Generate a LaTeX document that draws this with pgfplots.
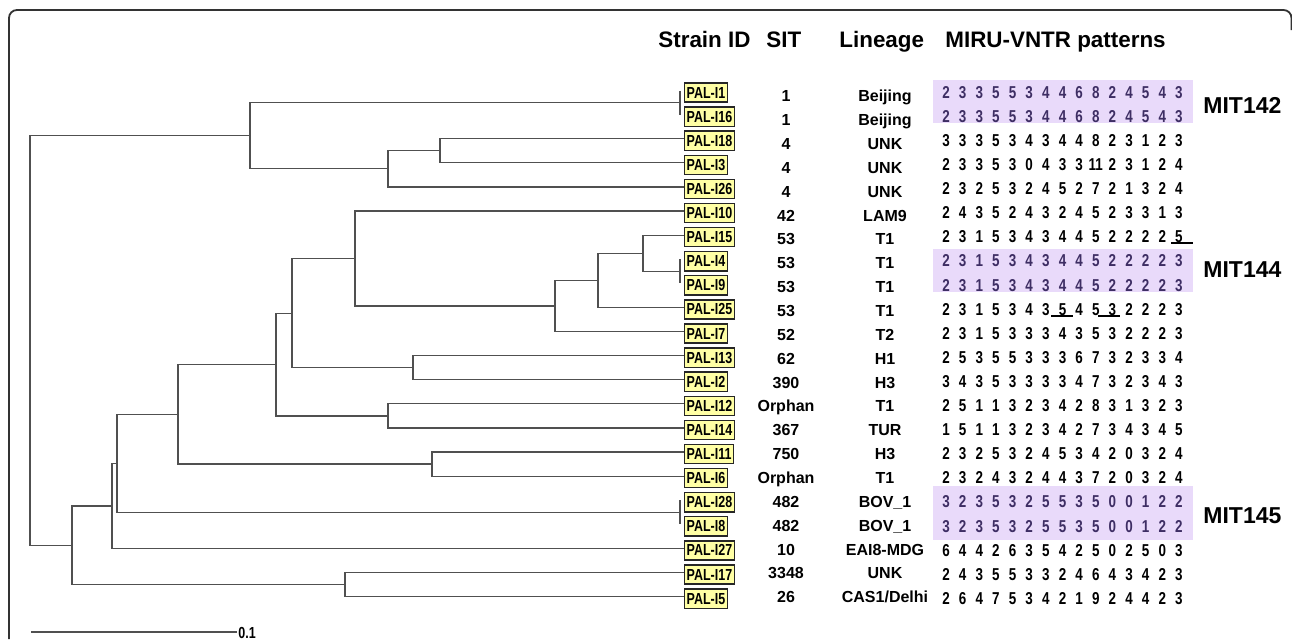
\documentclass[border=0pt]{standalone}
\usepackage{pgfplots}
\pgfplotsset{compat=1.18}
\usepackage{fontspec}
\setmainfont{Liberation Sans}
\newfontfamily\narrowfont[FakeStretch=0.78]{Liberation Sans}
\definecolor{lav}{RGB}{233,218,250}
\definecolor{palyel}{RGB}{255,255,165}
\definecolor{digp}{RGB}{62,46,100}
\definecolor{treec}{RGB}{80,80,80}
\tikzset{
 pal/.style={anchor=west, fill=palyel, draw=black!85, line width=0.7pt, inner xsep=1pt, inner ysep=0pt, minimum height=9.6pt, font=\narrowfont\bfseries\fontsize{8}{9}\selectfont},
 sit/.style={anchor=base, inner sep=0pt, font=\bfseries\fontsize{8}{9}\selectfont},
 dig/.style={anchor=base, inner sep=0pt, font=\narrowfont\bfseries\fontsize{8.6}{9}\selectfont},
 digP/.style={dig, text=digp},
 hdr/.style={anchor=base west, inner sep=0pt, font=\bfseries\fontsize{11.2}{12}\selectfont},
 mit/.style={anchor=west, inner sep=0pt, font=\bfseries\fontsize{11.5}{12}\selectfont},
 br/.style={treec, line width=0.6pt, mark=none},
}
\newcommand\mirurow[3]{%
 \foreach \d [count=\k from 0] in {#3} {%
   \edef\tmp{\noexpand\node[#2] at (axis cs:{946+16.64*\k},{98.2+24.1*#1}) {\d};}\tmp
 }}
\newcommand\leaf[4]{%
 \node[pal] at (axis cs:684,{92.5+24.1*#1}) {#2};
 \node[sit] at (axis cs:786,{101.7+23.86*#1}) {#3};
 \node[sit] at (axis cs:885,{101.7+23.86*#1}) {#4};
}
\begin{document}
\begin{tikzpicture}
\begin{axis}[scale only axis, width=646pt, height=319.5pt,
  xmin=0, xmax=1292, ymin=0, ymax=639, y dir=reverse, hide axis]
\addplot[draw=none] coordinates {(0,0) (1292,639)};
% frame
\addplot[black!80, line width=0.9pt, rounded corners=4pt] coordinates {(9,639) (9,10) (1291.5,10) (1291.5,30)};
% shaded MIT groups
\addplot[fill=lav, draw=none] coordinates {(933,80) (1193,80) (1193,123) (933,123)} -- cycle;
\addplot[fill=lav, draw=none] coordinates {(933,249) (1193,249) (1193,292) (933,292)} -- cycle;
\addplot[fill=lav, draw=none] coordinates {(933,486) (1193,486) (1193,540) (933,540)} -- cycle;
% dendrogram
\addplot[br] coordinates {(680,90.5) (680,114.6)};
\addplot[br] coordinates {(684,138.7) (440,138.7) (440,162.8) (684,162.8)};
\addplot[br] coordinates {(440,150.75) (388,150.75) (388,186.9) (684,186.9)};
\addplot[br] coordinates {(680,102.55) (250,102.55) (250,168.8) (388,168.8)};
\addplot[br] coordinates {(250,135.7) (30,135.7) (30,545.2) (72,545.2)};
\addplot[br] coordinates {(112,505.9) (72,505.9) (72,584.6) (345,584.6)};
\addplot[br] coordinates {(684,572.5) (345,572.5) (345,596.6) (684,596.6)};
\addplot[br] coordinates {(117,463.3) (112,463.3) (112,548.4) (684,548.4)};
\addplot[br] coordinates {(178,414.3) (117,414.3) (117,512.3) (680,512.3)};
\addplot[br] coordinates {(680,500.2) (680,524.3)};
\addplot[br] coordinates {(276,364.5) (178,364.5) (178,464) (432,464)};
\addplot[br] coordinates {(684,452) (432,452) (432,476.1) (684,476.1)};
\addplot[br] coordinates {(292,313.1) (276,313.1) (276,415.9) (388,415.9)};
\addplot[br] coordinates {(684,403.8) (388,403.8) (388,427.9) (684,427.9)};
\addplot[br] coordinates {(355,258.5) (292,258.5) (292,367.7) (413,367.7)};
\addplot[br] coordinates {(684,355.6) (413,355.6) (413,379.7) (684,379.7)};
\addplot[br] coordinates {(684,211) (355,211) (355,305.9) (555,305.9)};
\addplot[br] coordinates {(598,280.3) (555,280.3) (555,331.5) (684,331.5)};
\addplot[br] coordinates {(643,253.2) (598,253.2) (598,307.4) (684,307.4)};
\addplot[br] coordinates {(684,235.1) (643,235.1) (643,271.25) (680,271.25)};
\addplot[br] coordinates {(680,259.2) (680,283.3)};
% scale bar
\addplot[br] coordinates {(31,632) (237,632)};
\node[anchor=base west, inner sep=0pt, font=\narrowfont\bfseries\fontsize{8}{9}\selectfont] at (axis cs:238,638) {0.1};
% underlines
\addplot[black, line width=1pt] coordinates {(1171,243) (1193,243)};
\addplot[black, line width=1pt] coordinates {(1051,316) (1073,316)};
\addplot[black, line width=1pt] coordinates {(1098,316) (1120,316)};
% headers
\node[hdr] at (axis cs:658,47) {Strain ID};
\node[hdr] at (axis cs:766,47) {SIT};
\node[hdr] at (axis cs:839,47) {Lineage};
\node[hdr] at (axis cs:945,47) {MIRU-VNTR patterns};
\node[mit] at (axis cs:1203,105.5) {MIT142};
\node[mit] at (axis cs:1203,269.5) {MIT144};
\node[mit] at (axis cs:1203,515.5) {MIT145};
% leaves
\leaf{0}{PAL-I1}{1}{Beijing}
\leaf{1}{PAL-I16}{1}{Beijing}
\leaf{2}{PAL-I18}{4}{UNK}
\leaf{3}{PAL-I3}{4}{UNK}
\leaf{4}{PAL-I26}{4}{UNK}
\leaf{5}{PAL-I10}{42}{LAM9}
\leaf{6}{PAL-I15}{53}{T1}
\leaf{7}{PAL-I4}{53}{T1}
\leaf{8}{PAL-I9}{53}{T1}
\leaf{9}{PAL-I25}{53}{T1}
\leaf{10}{PAL-I7}{52}{T2}
\leaf{11}{PAL-I13}{62}{H1}
\leaf{12}{PAL-I2}{390}{H3}
\leaf{13}{PAL-I12}{Orphan}{T1}
\leaf{14}{PAL-I14}{367}{TUR}
\leaf{15}{PAL-I11}{750}{H3}
\leaf{16}{PAL-I6}{Orphan}{T1}
\leaf{17}{PAL-I28}{482}{BOV\_1}
\leaf{18}{PAL-I8}{482}{BOV\_1}
\leaf{19}{PAL-I27}{10}{EAI8-MDG}
\leaf{20}{PAL-I17}{3348}{UNK}
\leaf{21}{PAL-I5}{26}{CAS1/Delhi}
% MIRU-VNTR digits
\mirurow{0}{digP}{2,3,3,5,5,3,4,4,6,8,2,4,5,4,3}
\mirurow{1}{digP}{2,3,3,5,5,3,4,4,6,8,2,4,5,4,3}
\mirurow{2}{dig}{3,3,3,5,3,4,3,4,4,8,2,3,1,2,3}
\mirurow{3}{dig}{2,3,3,5,3,0,4,3,3,11,2,3,1,2,4}
\mirurow{4}{dig}{2,3,2,5,3,2,4,5,2,7,2,1,3,2,4}
\mirurow{5}{dig}{2,4,3,5,2,4,3,2,4,5,2,3,3,1,3}
\mirurow{6}{dig}{2,3,1,5,3,4,3,4,4,5,2,2,2,2,5}
\mirurow{7}{digP}{2,3,1,5,3,4,3,4,4,5,2,2,2,2,3}
\mirurow{8}{digP}{2,3,1,5,3,4,3,4,4,5,2,2,2,2,3}
\mirurow{9}{dig}{2,3,1,5,3,4,3,5,4,5,3,2,2,2,3}
\mirurow{10}{dig}{2,3,1,5,3,3,3,4,3,5,3,2,2,2,3}
\mirurow{11}{dig}{2,5,3,5,5,3,3,3,6,7,3,2,3,3,4}
\mirurow{12}{dig}{3,4,3,5,3,3,3,3,4,7,3,2,3,4,3}
\mirurow{13}{dig}{2,5,1,1,3,2,3,4,2,8,3,1,3,2,3}
\mirurow{14}{dig}{1,5,1,1,3,2,3,4,2,7,3,4,3,4,5}
\mirurow{15}{dig}{2,3,2,5,3,2,4,5,3,4,2,0,3,2,4}
\mirurow{16}{dig}{2,3,2,4,3,2,4,4,3,7,2,0,3,2,4}
\mirurow{17}{digP}{3,2,3,5,3,2,5,5,3,5,0,0,1,2,2}
\mirurow{18}{digP}{3,2,3,5,3,2,5,5,3,5,0,0,1,2,2}
\mirurow{19}{dig}{6,4,4,2,6,3,5,4,2,5,0,2,5,0,3}
\mirurow{20}{dig}{2,4,3,5,5,3,3,2,4,6,4,3,4,2,3}
\mirurow{21}{dig}{2,6,4,7,5,3,4,2,1,9,2,4,4,2,3}
\end{axis}
\end{tikzpicture}
\end{document}
